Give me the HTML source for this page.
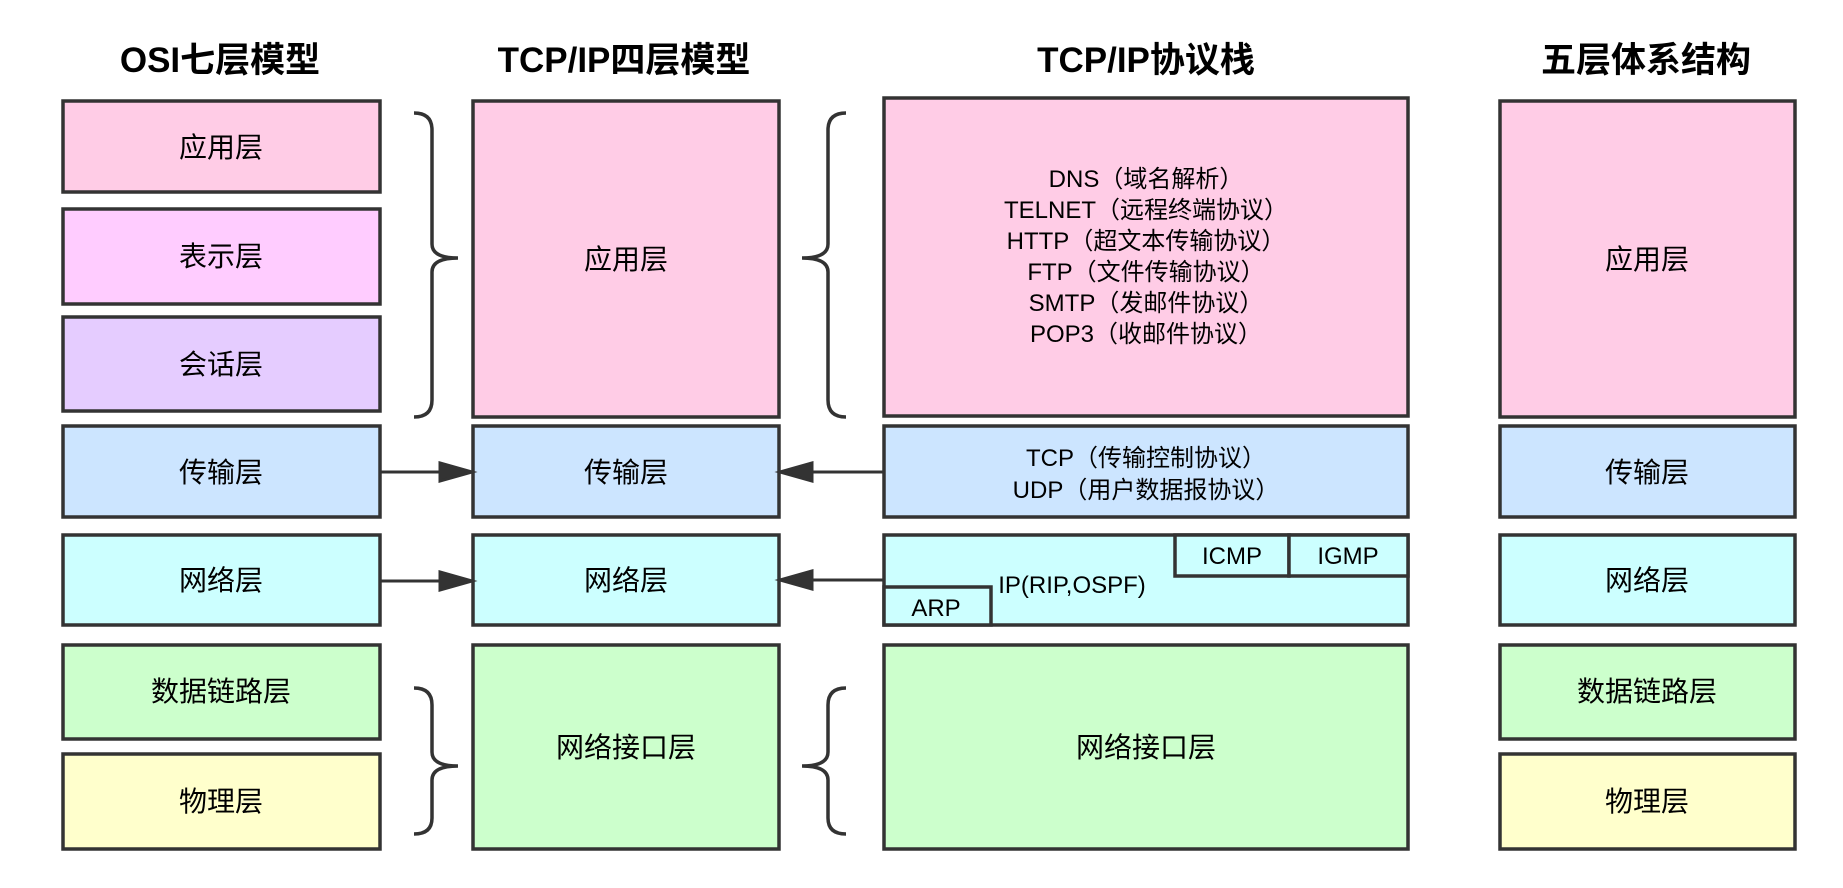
<!DOCTYPE html>
<html><head><meta charset="utf-8"><style>
body{margin:0;background:#fff}
svg text{font-family:"Liberation Sans","Noto Sans CJK SC",sans-serif;fill:#000}
</style></head><body>
<svg width="1843" height="883" xmlns="http://www.w3.org/2000/svg">
<g font-weight="bold" font-size="35" text-anchor="middle">
<text x="220" y="72">OSI七层模型</text>
<text x="624" y="72">TCP/IP四层模型</text>
<text x="1146" y="72">TCP/IP协议栈</text>
<text x="1646" y="72">五层体系结构</text>
</g>
<g stroke="#333" stroke-width="3.5">
<rect x="63" y="101" width="317" height="91" fill="#ffcce6"/>
<rect x="63" y="209" width="317" height="95" fill="#ffccff"/>
<rect x="63" y="317" width="317" height="94" fill="#e5ccff"/>
<rect x="63" y="426" width="317" height="91" fill="#cce5ff"/>
<rect x="63" y="535" width="317" height="90" fill="#ccffff"/>
<rect x="63" y="645" width="317" height="94" fill="#ccffcc"/>
<rect x="63" y="754" width="317" height="95" fill="#ffffcc"/>

<rect x="473" y="101" width="306" height="316" fill="#ffcce6"/>
<rect x="473" y="426" width="306" height="91" fill="#cce5ff"/>
<rect x="473" y="535" width="306" height="90" fill="#ccffff"/>
<rect x="473" y="645" width="306" height="204" fill="#ccffcc"/>

<rect x="884" y="98" width="524" height="318" fill="#ffcce6"/>
<rect x="884" y="426" width="524" height="91" fill="#cce5ff"/>
<rect x="884" y="535" width="524" height="90" fill="#ccffff"/>
<rect x="1175" y="535" width="114" height="41" fill="#ccffff"/>
<rect x="1289" y="535" width="119" height="41" fill="#ccffff"/>
<rect x="884" y="587" width="107" height="38" fill="#ccffff"/>
<rect x="884" y="645" width="524" height="204" fill="#ccffcc"/>

<rect x="1500" y="101" width="295" height="316" fill="#ffcce6"/>
<rect x="1500" y="426" width="295" height="91" fill="#cce5ff"/>
<rect x="1500" y="535" width="295" height="90" fill="#ccffff"/>
<rect x="1500" y="645" width="295" height="94" fill="#ccffcc"/>
<rect x="1500" y="754" width="295" height="95" fill="#ffffcc"/>
</g>
<g stroke="#333" stroke-width="3.5" fill="none">
<path d="M414,113 Q432,113 432,130 L432,244 Q432,258 458,258 Q432,258 432,272 L432,400 Q432,417 414,417"/>
<path d="M414,688 Q432,688 432,705 L432,752 Q432,766 458,766 Q432,766 432,780 L432,818 Q432,834 414,834"/>
<path d="M846,113 Q828,113 828,130 L828,244 Q828,258 802,258 Q828,258 828,272 L828,400 Q828,417 846,417"/>
<path d="M846,688 Q828,688 828,705 L828,752 Q828,766 802,766 Q828,766 828,780 L828,818 Q828,834 846,834"/>
</g>
<g stroke="#333" stroke-width="3">
<line x1="381" y1="472" x2="440" y2="472"/><path d="M440,463 L472,472 L440,481z" fill="#333"/>
<line x1="381" y1="581" x2="440" y2="581"/><path d="M440,572 L472,581 L440,590z" fill="#333"/>
<line x1="884" y1="472" x2="812" y2="472"/><path d="M812,463 L780,472 L812,481z" fill="#333"/>
<line x1="884" y1="580" x2="812" y2="580"/><path d="M812,571 L780,580 L812,589z" fill="#333"/>
</g>
<g font-size="28" text-anchor="middle">
<text x="221" y="157">应用层</text>
<text x="221" y="266">表示层</text>
<text x="221" y="374">会话层</text>
<text x="221" y="482">传输层</text>
<text x="221" y="590">网络层</text>
<text x="221" y="701">数据链路层</text>
<text x="221" y="811">物理层</text>
<text x="626" y="269">应用层</text>
<text x="626" y="482">传输层</text>
<text x="626" y="590">网络层</text>
<text x="626" y="757">网络接口层</text>
<text x="1146" y="757">网络接口层</text>
<text x="1647" y="269">应用层</text>
<text x="1647" y="482">传输层</text>
<text x="1647" y="590">网络层</text>
<text x="1647" y="701">数据链路层</text>
<text x="1647" y="811">物理层</text>
</g>
<g font-size="24" text-anchor="middle">
<text x="1146" y="187">DNS（域名解析）</text>
<text x="1146" y="218">TELNET（远程终端协议）</text>
<text x="1146" y="249">HTTP（超文本传输协议）</text>
<text x="1146" y="280">FTP（文件传输协议）</text>
<text x="1146" y="311">SMTP（发邮件协议）</text>
<text x="1146" y="342">POP3（收邮件协议）</text>
<text x="1146" y="466">TCP（传输控制协议）</text>
<text x="1146" y="498">UDP（用户数据报协议）</text>
<text x="1072" y="593">IP(RIP,OSPF)</text>
<text x="1232" y="564">ICMP</text>
<text x="1348" y="564">IGMP</text>
<text x="936" y="616">ARP</text>
</g>
</svg>
</body></html>
